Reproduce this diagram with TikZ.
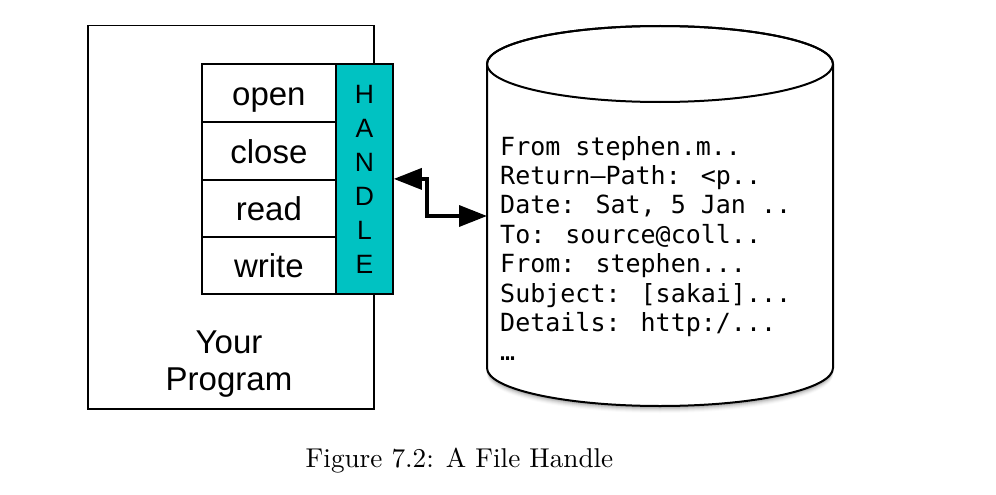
\documentclass[tikz,border=0pt]{standalone}
\usepackage{fontspec}
\usepackage{graphicx}
\usetikzlibrary{arrows.meta}
\newfontfamily\sansf{Liberation Sans}
\newfontfamily\monof{DejaVu Sans Mono}
\definecolor{handlecyan}{RGB}{0,194,194}
\begin{document}
\begin{tikzpicture}[x=1pt,y=-1pt,
  box/.style={draw=black, line width=1.8pt, fill=white, inner sep=0pt},
  method/.style={box, minimum width=134pt, minimum height=58pt, anchor=north west,
    font=\sansf\fontsize{33}{37}\selectfont, text height=25pt, text depth=0pt},
  handlebox/.style={box, fill=handlecyan, minimum width=57pt, minimum height=230pt, anchor=north west,
    align=center, font=\sansf\fontsize{26.5}{34}\selectfont},
  conn/.style={line width=3.5pt, {Triangle[length=28pt,width=21pt]}-{Triangle[length=28pt,width=21pt]}},
  cylline/.style={draw=black, line width=2pt}
]
\useasboundingbox (0,0) rectangle (996,495);

% program box
\node[box, line width=1.5pt, minimum width=286pt, minimum height=383pt, anchor=north west] (prog) at (87,25) {};
\node[font=\sansf\fontsize{33}{37}\selectfont, align=center, anchor=north, inner sep=0pt] (progl) at (229,331) {Your\\Program};

% methods
\node[method] (mopen)  at (201,63)  {open};
\node[method] (mclose) at (201,121) {close};
\node[method, minimum height=57pt] (mread)  at (201,179) {read};
\node[method, minimum height=57pt] (mwrite) at (201,236) {write};

% handle
\node[handlebox] (handle) at (335,63) {H\\A\\N\\D\\L\\E};

% cylinder shadow
\foreach \i/\o in {1/0.10,2/0.09,3/0.08,4/0.06,5/0.045,6/0.03,7/0.02}{
  \fill[black, opacity=\o, shift={(0,\i)}] (487,64) -- (487,368)
    arc[start angle=180, end angle=0, x radius=173, y radius=38] -- (833,64) -- cycle;
}
% cylinder body
\path[cylline, fill=white] (487,64) -- (487,368)
  arc[start angle=180, end angle=0, x radius=173, y radius=38] -- (833,64)
  arc[start angle=0, end angle=-180, x radius=173, y radius=38] -- cycle;
\draw[line width=2pt] (660,64) ellipse [x radius=173, y radius=38];
\coordinate (cylL) at (487,216);

\node[font=\monof\fontsize{25}{29.4}\selectfont, align=left, anchor=base west, inner sep=0pt] (mail) at (500,360.8)
{From stephen.m..\\Return–Path: <p..\\Date: Sat, 5 Jan ..\\To: source@coll..\\From: stephen...\\Subject: [sakai]...\\Details: http:/...\\…};

% connector
\draw[conn] (handle.east) -- ++(33,0) |- (cylL);

% caption
\node[anchor=base, inner sep=0pt] (cap) at (459.5,467) {\scalebox{2.72}{Figure 7.2: A File Handle}};
\end{tikzpicture}
\end{document}
